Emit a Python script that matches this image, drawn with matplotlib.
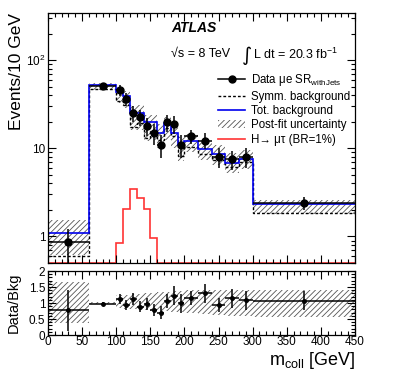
import numpy as np
import matplotlib
matplotlib.use("Agg")
import matplotlib.pyplot as plt
from matplotlib.lines import Line2D
from matplotlib.patches import Patch
from matplotlib.ticker import FixedLocator, MultipleLocator, NullFormatter, FixedFormatter, LogLocator

plt.rcParams['font.family'] = ['Liberation Sans', 'DejaVu Sans']
plt.rcParams['mathtext.fontset'] = 'custom'
plt.rcParams['mathtext.rm'] = 'Liberation Sans'
plt.rcParams['mathtext.it'] = 'Liberation Sans:italic'
plt.rcParams['hatch.linewidth'] = 0.6

# ---- data ----
edges = [0, 60, 100, 110, 120, 130, 140, 150, 160, 170, 180, 190, 200, 220, 240, 260, 280, 300, 450]
data = [0.855, 51.5, 45.8, 36.2, 25.0, 22.5, 18.0, 14.9, 11.0, 19.8, 18.9, 11.0, 13.8, 12.3, 8.07, 7.55, 8.07, 2.40]
data_err = [0.35, 3.6, 6.8, 6.0, 5.0, 4.7, 4.2, 3.9, 3.3, 4.4, 4.3, 3.3, 2.6, 2.5, 2.0, 1.9, 2.0, 0.4]
tot_bkg = [1.10, 52.0, 44.0, 39.0, 25.5, 25.5, 19.8, 19.8, 15.1, 19.2, 15.1, 11.0, 12.2, 9.8, 8.7, 6.9, 7.6, 2.36]
symm_bkg = [0.60, 47.5, 35.0, 31.0, 17.5, 19.5, 13.0, 15.6, 12.5, 17.0, 13.8, 8.3, 10.5, 8.6, 7.4, 6.2, 7.1, 1.85]
band_hi = [1.55, 55.0, 50.0, 45.0, 30.0, 31.0, 24.0, 24.0, 19.0, 23.0, 19.0, 13.5, 14.5, 12.0, 10.8, 8.8, 9.5, 2.57]
band_lo = [0.62, 46.0, 33.0, 29.0, 16.0, 16.0, 12.0, 12.5, 10.0, 12.5, 10.0, 7.2, 9.0, 7.3, 6.5, 5.2, 5.8, 1.80]
signal = [0, 0, 0.85, 2.05, 3.45, 2.75, 2.05, 0.97, 0, 0, 0, 0, 0, 0, 0, 0, 0, 0]

ratio = [0.77, 0.98, 1.12, 0.93, 1.12, 0.88, 0.97, 0.78, 0.70, 1.06, 1.23, 0.99, 1.16, 1.30, 0.94, 1.15, 1.09, 1.07]
ratio_err = [0.63, 0.06, 0.15, 0.15, 0.18, 0.17, 0.20, 0.20, 0.20, 0.22, 0.30, 0.30, 0.22, 0.30, 0.22, 0.30, 0.30, 0.30]
rband_hi = [1.67, 1.03, 1.25, 1.25, 1.27, 1.28, 1.30, 1.31, 1.33, 1.35, 1.37, 1.38, 1.40, 1.40, 1.40, 1.41, 1.41, 1.41]
rband_lo = [0.36, 0.97, 0.83, 0.82, 0.80, 0.79, 0.78, 0.76, 0.75, 0.74, 0.73, 0.72, 0.70, 0.66, 0.62, 0.60, 0.58, 0.57]

edges_a = np.array(edges, dtype=float)
centers = 0.5 * (edges_a[1:] + edges_a[:-1])
halfw = 0.5 * (edges_a[1:] - edges_a[:-1])

YLO, YHI = 0.5, 345

fig = plt.figure(figsize=(3.95, 3.8), dpi=100)
ax = fig.add_axes([48/395, 1-263/380, 307/395, 250/380])
rax = fig.add_axes([48/395, 1-335/380, 307/395, 64/380])

# main panel
ax.stairs(band_hi, edges, baseline=band_lo, fill=True, hatch='//////',
          facecolor='none', edgecolor='#555555', lw=0)
ax.stairs(symm_bkg, edges, baseline=None, color='black', ls=(0, (2, 1.5)), lw=1.0)
ax.stairs(tot_bkg, edges, baseline=None, color='#0000ee', lw=1.2)
sig_draw = np.clip(np.array(signal, dtype=float), YLO * 1.003, None)
ax.stairs(sig_draw, edges, baseline=None, color='#ff3333', lw=1.2)
ax.errorbar(centers, data, xerr=halfw, yerr=data_err, fmt='o', color='black',
            ms=5, lw=1.1, capsize=0)

ax.set_yscale('log')
ax.set_xlim(0, 450)
ax.set_ylim(YLO, YHI)
ax.yaxis.set_major_locator(FixedLocator([1, 10, 100]))
ax.yaxis.set_major_formatter(FixedFormatter(['1', '10', r'$10^{2}$']))
ax.yaxis.set_minor_locator(LogLocator(base=10, subs=np.arange(2, 10)))
ax.yaxis.set_minor_formatter(NullFormatter())
ax.xaxis.set_major_locator(MultipleLocator(50))
ax.xaxis.set_minor_locator(MultipleLocator(10))
ax.tick_params(axis='x', labelbottom=False)
ax.set_ylabel('Events/10 GeV', fontsize=12.5, loc='top', labelpad=1)

ax.text(0.40, 0.94, 'ATLAS', transform=ax.transAxes, fontsize=10,
        fontweight='bold', fontstyle='italic', va='center', ha='left')
ax.text(0.40, 0.835, '√s = 8 TeV', transform=ax.transAxes, fontsize=9,
        va='center', ha='left')
ax.text(0.63, 0.83, '∫', transform=ax.transAxes, fontsize=14,
        family=['DejaVu Sans'], va='center', ha='left')
ax.text(0.668, 0.835, r'L dt = 20.3 fb$^{-1}$', transform=ax.transAxes, fontsize=9,
        va='center', ha='left')

handles = [
    Line2D([], [], color='black', marker='o', ms=5, lw=1.1),
    Line2D([], [], color='black', ls=(0, (2, 1.5)), lw=1.0),
    Line2D([], [], color='#0000ee', lw=1.2),
    Patch(facecolor='none', edgecolor='#555555', hatch='//////', lw=0),
    Line2D([], [], color='#ff3333', lw=1.2),
]
labels = [r'Data μe SR$_{\rm withJets}$', 'Symm. background', 'Tot. background',
          'Post-fit uncertainty', 'H→ μτ (BR=1%)']
leg = ax.legend(handles, labels, loc='upper left', bbox_to_anchor=(0.553, 0.762),
                frameon=False, fontsize=8.3, handlelength=2.4, handletextpad=0.45,
                labelspacing=0.2, borderpad=0, borderaxespad=0)

# ratio panel
rax.stairs(rband_hi, edges, baseline=rband_lo, fill=True, hatch='//////',
           facecolor='none', edgecolor='#555555', lw=0)
rax.errorbar(centers, ratio, xerr=halfw, yerr=ratio_err, fmt='o', color='black',
             ms=2.5, lw=1.1, capsize=0)
rax.set_xlim(0, 450)
rax.set_ylim(0, 2)
rax.yaxis.set_major_locator(FixedLocator([0, 0.5, 1, 1.5, 2]))
rax.yaxis.set_major_formatter(FixedFormatter(['0', '0.5', '1', '1.5', '2']))
rax.yaxis.set_minor_locator(MultipleLocator(0.1))
rax.xaxis.set_major_locator(MultipleLocator(50))
rax.xaxis.set_minor_locator(MultipleLocator(10))
rax.set_ylabel('Data/Bkg', fontsize=10.5, labelpad=6)
rax.set_xlabel(r'm$_{\rm coll}$ [GeV]', fontsize=13, loc='right', labelpad=1)

for a in (ax, rax):
    a.tick_params(which='both', direction='in', top=True, right=True, labelsize=8.5)
    a.tick_params(which='major', length=6, width=0.8)
    a.tick_params(which='minor', length=3, width=0.8)
    a.tick_params(axis='y', pad=2)
    for s in a.spines.values():
        s.set_linewidth(0.9)
rax.tick_params(axis='x', pad=1)

fig.savefig('out.png', dpi=100)
